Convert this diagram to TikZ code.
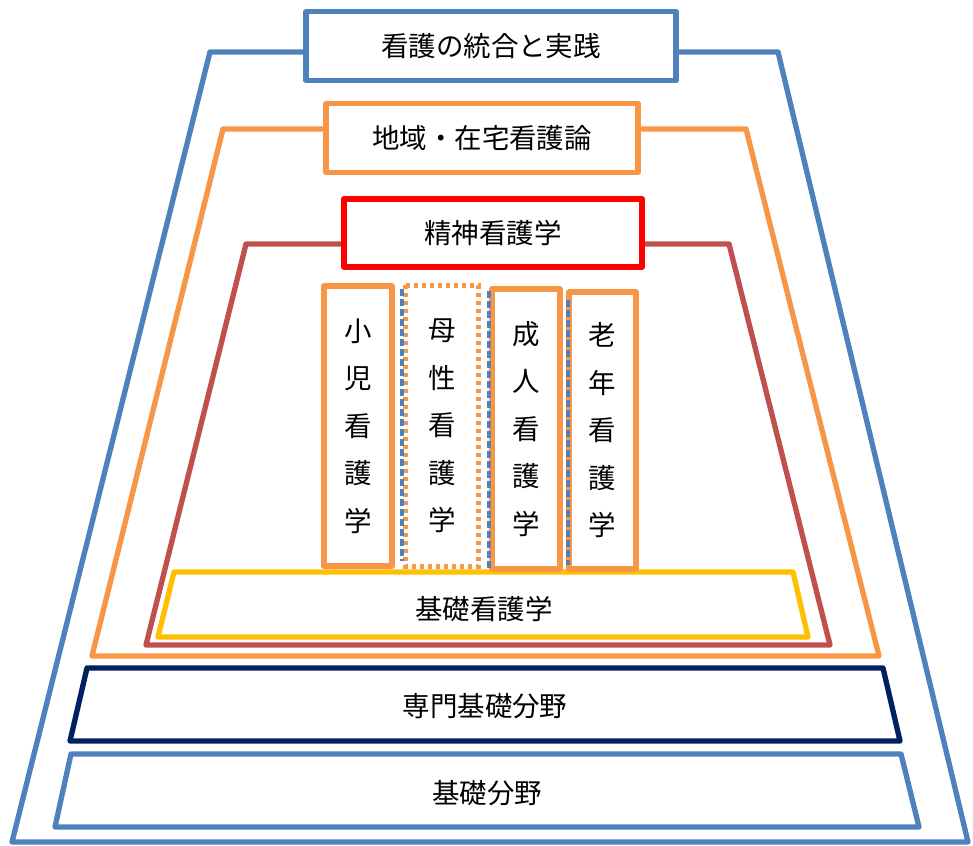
\documentclass[tikz,border=0pt]{standalone}
\usepackage{fontspec}
\newfontfamily\jp{Noto Sans CJK JP}
\definecolor{cblue}{HTML}{4F81BD}
\definecolor{corange}{HTML}{F79646}
\definecolor{cdred}{HTML}{C0504D}
\definecolor{cred}{HTML}{FF0000}
\definecolor{cyellow}{HTML}{FFC000}
\definecolor{cnavy}{HTML}{002060}
\tikzset{
  trap/.style={line width=4pt, line join=round},
  lbl/.style={font=\jp\fontsize{20.6pt}{24pt}\selectfont, inner sep=0pt},
  topbox/.style={draw, fill=white, line width=4pt, line join=round, inner sep=0pt,
    font=\jp\fontsize{20.6pt}{24pt}\selectfont},
  vbox/.style={draw=corange, fill=white, line width=3.8pt, line join=round, inner sep=0pt,
    align=center, font=\jp\fontsize{20.6pt}{35.6pt}\selectfont},
  bdash/.style={draw=cblue, line width=2.8pt, dash pattern=on 5pt off 2.5pt}
}
\begin{document}
\begin{tikzpicture}[x=0.75pt,y=-0.75pt]
\useasboundingbox (0,0) rectangle (973,845);
% outer blue trapezoid
\draw[trap, cblue] (210,52) -- (12,842) -- (968,842) -- (778,52) -- cycle;
% orange trapezoid
\draw[trap, corange] (223,129) -- (92,656) -- (879,656) -- (746,129) -- cycle;
% dark red trapezoid
\draw[trap, cdred] (246,244) -- (146,645) -- (830,645) -- (729,244) -- cycle;
% yellow
\draw[trap, cyellow] (174,572) -- (158,637) -- (808,637) -- (793,572) -- cycle;
\node[lbl] (kiso) at (484,609) {基礎看護学};
% navy
\draw[trap, cnavy] (87,668) -- (70,741) -- (900,741) -- (883,668) -- cycle;
\node[lbl] (senmon) at (485,706) {専門基礎分野};
% bottom blue
\draw[trap, cblue] (71,754) -- (55,827) -- (919,827) -- (901,754) -- cycle;
\node[lbl] (kisobunya) at (487,793) {基礎分野};
% top boxes
\node[topbox, draw=cblue, minimum width=370*0.75pt, minimum height=69*0.75pt] (tougou) at (491,46) {看護の統合と実践};
\node[topbox, draw=corange, minimum width=312*0.75pt, minimum height=69*0.75pt] (chiiki) at (482,138) {地域・在宅看護論};
\node[topbox, draw=cred, line width=4.6pt, minimum width=298*0.75pt, minimum height=68*0.75pt] (seishin) at (493,233) {精神看護学};
% vertical boxes
\node[vbox, minimum width=68*0.75pt, minimum height=280*0.75pt] (shoni) at (358,426) {小\\児\\看\\護\\学};
\node[vbox, draw=none, minimum width=68*0.75pt, minimum height=276*0.75pt] (bosei) at (442,426) {母\\性\\看\\護\\学};
\draw[corange, line width=3.2pt, dash pattern=on 3pt off 3pt] (bosei.north west) rectangle (bosei.south east);
\node[vbox, minimum width=68*0.75pt, minimum height=280*0.75pt] (seijin) at (526,429) {成\\人\\看\\護\\学};
\node[vbox, minimum width=67*0.75pt, minimum height=277*0.75pt] (ronen) at (602.5,430.5) {老\\年\\看\\護\\学};
% blue dashed edges
\draw[bdash] (402,289) -- (402,561);
\draw[bdash] (489,291) -- (489,568);
\draw[bdash] (568,300) -- (568,565);
\end{tikzpicture}
\end{document}
